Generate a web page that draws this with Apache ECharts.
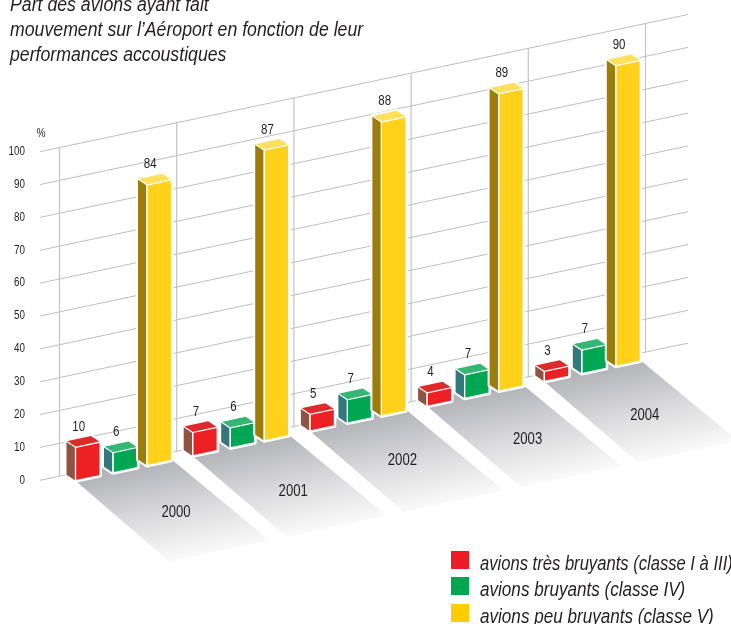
<!DOCTYPE html>
<html>
<head>
<meta charset="utf-8">
<style>
  html, body { margin: 0; padding: 0; background: #fff; }
  #chart { width: 731px; height: 624px; }
</style>
<script src="https://cdn.jsdelivr.net/npm/echarts@6/dist/echarts.min.js"></script>
</head>
<body>
<div id="chart"></div>
<script>
const years = ['2000', '2001', '2002', '2003', '2004'];
const tresBruyants = [10, 7, 5, 4, 3];
const bruyants = [6, 6, 7, 7, 7];
const peuBruyants = [84, 87, 88, 89, 90];
const ticks = [0, 10, 20, 30, 40, 50, 60, 70, 80, 90, 100];
const titleLines = [
  'Part des avions ayant fait',
  'mouvement sur l\u2019A\u00e9roport en fonction de leur',
  'performances accoustiques'
];
const legendNames = [
  'avions tr\u00e8s bruyants (classe I \u00e0 III)',
  'avions bruyants (classe IV)',
  'avions peu bruyants (classe V)'
];
const legendColors = ['#ed1c24', '#00a651', '#ffcc00'];

const FONT = '"Liberation Sans", sans-serif';
const NARROW = 0.82;    // pas de police etroite installee, on serre le texte
const TEXT_COLOR = '#231f20';
const SLOPE = 0.2117;   // montee des lignes vers la droite
const X0 = 40;          // debut des lignes de grille
const GRID_END = 688;
const DEPTH = [9, 6];   // profondeur des barres
const BAR_W = 24.5;

// le repere est droit, on le cisaille pour la perspective
function skew(x, y) {
  return [x, y - SLOPE * (x - X0)];
}
function move(p, dx, dy) {
  return [p[0] + dx, p[1] + dy];
}
function wallX(api, i) {
  return api.coord([i, 0])[0] - api.size([1, 0])[0] / 2;
}
function narrowText(text, x, y, size, align) {
  return {
    type: 'text',
    x: x,
    y: y,
    scaleX: NARROW,
    style: {
      text: text,
      align: align || 'center',
      verticalAlign: 'middle',
      font: size + 'px ' + FONT,
      fill: TEXT_COLOR
    }
  };
}

function renderGridLine(params, api) {
  const v = api.value(0);
  const y = api.coord([0, v])[1];
  const a = skew(X0, y);
  const b = skew(GRID_END, y);
  return {
    type: 'group',
    children: [
      {
        type: 'line',
        shape: { x1: a[0], y1: a[1], x2: b[0], y2: b[1] },
        style: { stroke: '#bdbdbd', lineWidth: 1 }
      },
      narrowText(String(v), 25, y, 12, 'right')
    ]
  };
}

function renderWall(params, api) {
  const x = api.coord([0, 0])[0] + api.size([1, 0])[0] * (api.value(0) - 0.5);
  const a = skew(x, api.coord([0, 0])[1]);
  const b = skew(x, api.coord([0, 100])[1]);
  return {
    type: 'line',
    shape: { x1: a[0], y1: a[1], x2: b[0], y2: b[1] },
    style: { stroke: '#c4c4c4', lineWidth: 1.2 }
  };
}

const yearDx = [0, 0, -8, 0, 0];
const yearDy = [0, 3, -3, 1, 2];

function renderFloor(params, api) {
  const i = api.value(0);
  const wall = wallX(api, i);
  const y0 = api.coord([i, 0])[1];
  const fl = move(skew(wall + 7, y0), DEPTH[0], DEPTH[1]);
  const fr = move(fl, 97, -20.5);
  const br = move(fr, 97, 80);
  const bl = move(fl, 94, 81);
  const tl = skew(wall + 16, y0);
  const tr = skew(wall + 110, y0);
  const lab = skew(wall + 116.5, y0);
  return {
    type: 'group',
    children: [
      {
        type: 'polygon',
        shape: { points: [fl, tl, tr, fr, br, bl] },
        style: {
          fill: new echarts.graphic.LinearGradient(fl[0], fl[1], fl[0] + 20.4, fl[1] + 96.6, [
            { offset: 0, color: '#b3b4b8' },
            { offset: 0.5, color: '#dadadc' },
            { offset: 1, color: '#fafafa' }
          ], true)
        }
      },
      narrowText(years[i], lab[0] + yearDx[i], lab[1] + 61.5 + yearDy[i], 16)
    ]
  };
}

function barRenderer(offset, colors) {
  return function (params, api) {
    const i = api.value(0);
    const v = api.value(1);
    const x = wallX(api, i) + offset;
    const base = api.coord([i, 0])[1];
    const top = api.coord([i, v])[1];
    const bl = skew(x, base);
    const tl = skew(x, top);
    const tr = skew(x + BAR_W, top);
    const ftl = move(tl, DEPTH[0], DEPTH[1]);
    const ftr = move(tr, DEPTH[0], DEPTH[1]);
    const fbl = move(bl, DEPTH[0], DEPTH[1]);
    const fbr = move(skew(x + BAR_W, base), DEPTH[0], DEPTH[1]);
    return {
      type: 'group',
      children: [
        {
          type: 'polygon',
          shape: { points: [bl, tl, tr, ftr, fbr, fbl] },
          style: { fill: '#fff', stroke: '#fff', lineWidth: 4, lineJoin: 'round' }
        },
        { type: 'polygon', shape: { points: [bl, tl, ftl, fbl] }, style: { fill: colors.side } },
        { type: 'polygon', shape: { points: [tl, tr, ftr, ftl] }, style: { fill: colors.top } },
        {
          type: 'polygon',
          shape: { points: [ftl, ftr, fbr, fbl] },
          style: { fill: colors.front, stroke: '#fff', lineWidth: 1.2 }
        },
        {
          type: 'polyline',
          shape: { points: [tl, ftl, fbl] },
          style: { fill: 'none', stroke: '#fff', lineWidth: 1.2 }
        },
        narrowText(String(v), x + BAR_W / 2, tl[1] - 14.5, 14)
      ]
    };
  };
}

function barSeries(name, values, offset, colors) {
  return {
    name: name,
    type: 'custom',
    yAxisIndex: 1,
    clip: false,
    silent: true,
    renderItem: barRenderer(offset, colors),
    encode: { x: 0, y: 1 },
    data: values.map(function (v, i) { return [i, v]; })
  };
}

// titre et legende en graphic: seul moyen de serrer le texte
const titleY = [5, 30, 55];
const legendY = [551, 577, 604];
const legendScale = [0.83, 0.855, 0.855];
const graphics = [];
titleLines.forEach(function (line, i) {
  graphics.push({
    type: 'text',
    x: 10,
    y: titleY[i],
    scaleX: 0.885,
    style: { text: line, verticalAlign: 'middle', font: 'italic 20px ' + FONT, fill: TEXT_COLOR }
  });
});
legendNames.forEach(function (name, i) {
  graphics.push({
    type: 'rect',
    shape: { x: 451, y: legendY[i], width: 18, height: 18 },
    style: { fill: legendColors[i] }
  });
  graphics.push({
    type: 'text',
    x: 480,
    y: legendY[i] + 13,
    scaleX: legendScale[i],
    style: { text: name, verticalAlign: 'middle', font: 'italic 20px ' + FONT, fill: TEXT_COLOR }
  });
});
graphics.push({
  type: 'text',
  x: 41,
  y: 134,
  scaleX: NARROW,
  style: { text: '%', align: 'center', verticalAlign: 'middle', font: '12px ' + FONT, fill: TEXT_COLOR }
});

const chart = echarts.init(document.getElementById('chart'));
chart.setOption({
  animation: false,
  graphic: { elements: graphics },
  grid: { left: 59.5, width: 586, top: 151.7, height: 328.6 },
  xAxis: { type: 'category', data: years, show: false },
  yAxis: [
    {
      type: 'value',
      min: 0,
      max: 100,
      interval: 10,
      axisLine: { show: false },
      axisTick: { show: false },
      axisLabel: { show: false },
      splitLine: { show: false }
    },
    // les barres sont un peu plus hautes que la grille sur le dessin d'origine
    { type: 'value', min: 0, max: 98.4, show: false, splitLine: { show: false } }
  ],
  series: [
    {
      type: 'custom',
      clip: false,
      silent: true,
      renderItem: renderGridLine,
      data: ticks.map(function (t) { return [t]; })
    },
    {
      type: 'custom',
      clip: false,
      silent: true,
      renderItem: renderWall,
      data: years.concat(['']).map(function (y, i) { return [i]; })
    },
    {
      type: 'custom',
      clip: false,
      silent: true,
      renderItem: renderFloor,
      data: years.map(function (y, i) { return [i]; })
    },
    barSeries(legendNames[0], tresBruyants, 7, { front: '#ed2124', side: '#8f5342', top: '#dd2a2a' }),
    barSeries(legendNames[1], bruyants, 44.5, { front: '#00a651', side: '#33787a', top: '#35b774' }),
    barSeries(legendNames[2], peuBruyants, 78.5, { front: '#ffd11a', side: '#9c7d0c', top: '#ffe05c' })
  ]
});
</script>
</body>
</html>
